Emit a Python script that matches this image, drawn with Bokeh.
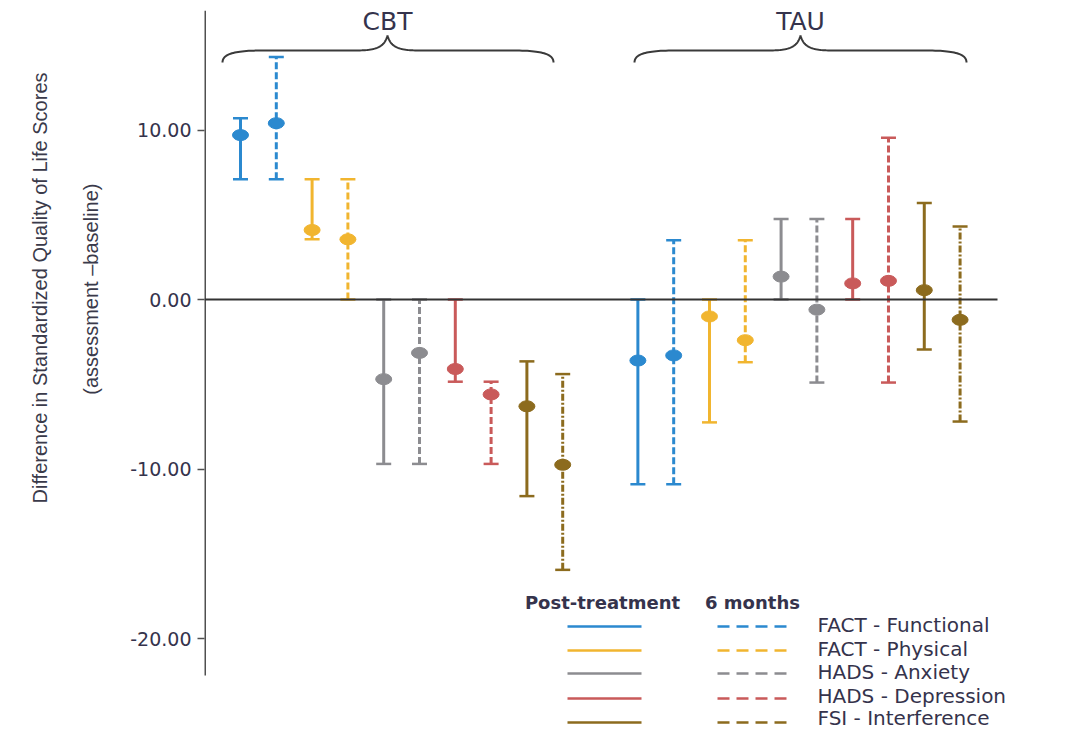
import numpy as np
from bokeh.plotting import figure
from bokeh.models import (ColumnDataSource, Whisker, TeeHead, FixedTicker,
                          NumeralTickFormatter, Label, Range1d, Title)
from bokeh.embed import file_html
from bokeh.resources import INLINE

# ---------------- data ----------------
groups = ["CBT", "TAU"]
timepoints = ["Post-treatment", "6 months"]
measures = ["FACT - Functional", "FACT - Physical", "HADS - Anxiety",
            "HADS - Depression", "FSI - Interference"]
colors = ["#2b89cf", "#f1b52f", "#8c8c90", "#c95a5a", "#8c6b1e"]

cbt_post_mean = [9.7, 4.1, -4.7, -4.1, -6.3]
cbt_post_lo = [7.1, 3.55, -9.7, -4.85, -11.6]
cbt_post_hi = [10.7, 7.1, 0.0, 0.0, -3.65]
cbt_6m_mean = [10.4, 3.55, -3.15, -5.6, -9.75]
cbt_6m_lo = [7.1, 0.0, -9.7, -9.7, -15.95]
cbt_6m_hi = [14.3, 7.1, 0.0, -4.85, -4.4]

tau_post_mean = [-3.6, -1.0, 1.35, 0.95, 0.55]
tau_post_lo = [-10.9, -7.25, 0.0, 0.0, -2.95]
tau_post_hi = [0.0, 0.0, 4.75, 4.75, 5.7]
tau_6m_mean = [-3.3, -2.4, -0.6, 1.1, -1.2]
tau_6m_lo = [-10.9, -3.7, -4.9, -4.9, -7.2]
tau_6m_hi = [3.5, 3.5, 4.75, 9.55, 4.3]

y_ticks = [-20, -10, 0, 10]

# ---------------- layout helpers (pixel -> data) ----------------
PX_X0, PX_DX = 240.0, 35.8
PX_Y0, PX_DY = 299.0, 16.95


def dx(px):
    return (px - PX_X0) / PX_DX


def dy(py):
    return (PX_Y0 - py) / PX_DY


group_offset = [0.0, 11.1]
dashes = [["solid"] * 5, ["7 3", "7 3", "7 3", "7 3", "7 2 2 2"]]

TXT = "#35334c"
FONT = "DejaVu Sans"
LFONT = "Liberation Sans"

W, H = 1080, 730
LEFT, TOP = 204, 10

p = figure(width=W, height=H,
           x_range=Range1d(dx(LEFT), dx(W)), y_range=Range1d(dy(H), dy(TOP)),
           output_backend="svg", toolbar_location=None, x_axis_location=None,
           min_border_left=LEFT, min_border_right=0, min_border_top=TOP,
           min_border_bottom=0)
p.outline_line_color = None
p.grid.visible = False
p.background_fill_color = "white"

# y axis (line drawn separately so that it stops above the legend)
ax = p.yaxis[0]
ax.ticker = FixedTicker(ticks=y_ticks)
ax.formatter = NumeralTickFormatter(format="0.00")
ax.axis_line_color = None
ax.major_tick_line_color = "#505050"
ax.major_tick_line_width = 1.5
ax.major_tick_out = 7
ax.major_tick_in = 0
ax.minor_tick_line_color = None
ax.major_label_text_font = FONT
ax.major_label_text_font_size = "19px"
ax.major_label_text_color = TXT
ax.major_label_standoff = 6

p.segment(x0=dx(LEFT), y0=dy(TOP), x1=dx(LEFT), y1=dy(675),
          line_color="#505050", line_width=3)

# zero line
p.segment(x0=dx(LEFT), y0=0, x1=dx(997), y1=0, line_color="#333333", line_width=2)

means = [[cbt_post_mean, cbt_6m_mean], [tau_post_mean, tau_6m_mean]]
los = [[cbt_post_lo, cbt_6m_lo], [tau_post_lo, tau_6m_lo]]
his = [[cbt_post_hi, cbt_6m_hi], [tau_post_hi, tau_6m_hi]]

for i, m in enumerate(measures):
    c = colors[i]
    for t in range(2):
        src = ColumnDataSource(dict(
            x=[2 * i + t + off for off in group_offset],
            y=[means[g][t][i] for g in range(2)],
            lo=[los[g][t][i] for g in range(2)],
            hi=[his[g][t][i] for g in range(2)],
        ))
        dash = dashes[t][i]
        w = Whisker(source=src, base="x", upper="hi", lower="lo",
                    line_color=c, line_width=3, line_dash=dash,
                    upper_head=TeeHead(size=15, line_color=c, line_width=2.5),
                    lower_head=TeeHead(size=15, line_color=c, line_width=2.5))
        p.add_layout(w)
        p.ellipse(x="x", y="y", width=16, height=11, width_units="screen",
                  height_units="screen", fill_color=c, line_color=c, source=src)


# braces
def cubic(p0, p1, p2, p3, n=30):
    t = np.linspace(0, 1, n)[:, None]
    p0, p1, p2, p3 = map(np.array, (p0, p1, p2, p3))
    return (1 - t) ** 3 * p0 + 3 * (1 - t) ** 2 * t * p1 + 3 * (1 - t) * t ** 2 * p2 + t ** 3 * p3


def brace(x0, x1, xt, yend=62, yl=50, ytip=35):
    pts = [cubic((x0, yend), (x0, yl + 4), (x0 + 10, yl), (x0 + 40, yl)),
           np.array([[x0 + 40, yl], [xt - 32, yl]]),
           cubic((xt - 32, yl), (xt - 10, yl), (xt - 3, yl - 4), (xt, ytip)),
           cubic((xt, ytip), (xt + 3, yl - 4), (xt + 10, yl), (xt + 32, yl)),
           np.array([[xt + 32, yl], [x1 - 40, yl]]),
           cubic((x1 - 40, yl), (x1 - 10, yl), (x1, yl + 4), (x1, yend))]
    arr = np.vstack(pts)
    return [dx(v) for v in arr[:, 0]], [dy(v) for v in arr[:, 1]]


for name, (x0, x1, xt) in zip(groups, [(222, 553, 387), (634, 966, 800)]):
    bx, by = brace(x0, x1, xt)
    p.line(bx, by, line_color="#3a3a3a", line_width=2)
    p.add_layout(Label(x=dx(xt), y=dy(21), text=name, text_align="center",
                       text_baseline="middle", text_font=FONT,
                       text_font_size="25px", text_color=TXT))

# y axis label (two lines, as titles in the left panel)
p.add_layout(Title(text="(assessment \u2013baseline)", align="right", offset=173,
                   standoff=52, text_font=LFONT, text_font_size="20px",
                   text_font_style="normal", text_color="#3a3a4a"), "left")
p.add_layout(Title(text="Difference in Standardized Quality of Life Scores",
                   align="right", offset=62, standoff=1, text_font=LFONT,
                   text_font_size="20px", text_font_style="normal",
                   text_color="#3a3a4a"), "left")

# legend (manual, two columns)
p.add_layout(Label(x=dx(602), y=dy(602), text=timepoints[0], text_align="center",
                   text_baseline="middle", text_font=FONT, text_font_size="18px",
                   text_font_style="bold", text_color=TXT))
p.add_layout(Label(x=dx(752), y=dy(602), text=timepoints[1], text_align="center",
                   text_baseline="middle", text_font=FONT, text_font_size="18px",
                   text_font_style="bold", text_color=TXT))
line_y = [626, 650, 673, 698, 722]
text_y = [624, 648, 671, 695, 717]
for i, m in enumerate(measures):
    yy = dy(line_y[i])
    p.segment(x0=dx(567), y0=yy, x1=dx(641), y1=yy, line_color=colors[i], line_width=2.5)
    p.segment(x0=dx(717), y0=yy, x1=dx(788), y1=yy, line_color=colors[i], line_width=2.5,
              line_dash="12 7")
    p.add_layout(Label(x=dx(817), y=dy(text_y[i]), text=m, text_align="left",
                       text_baseline="middle", text_font=FONT, text_font_size="20px",
                       text_color=TXT))

open("out.html", "w").write(file_html(p, INLINE))
